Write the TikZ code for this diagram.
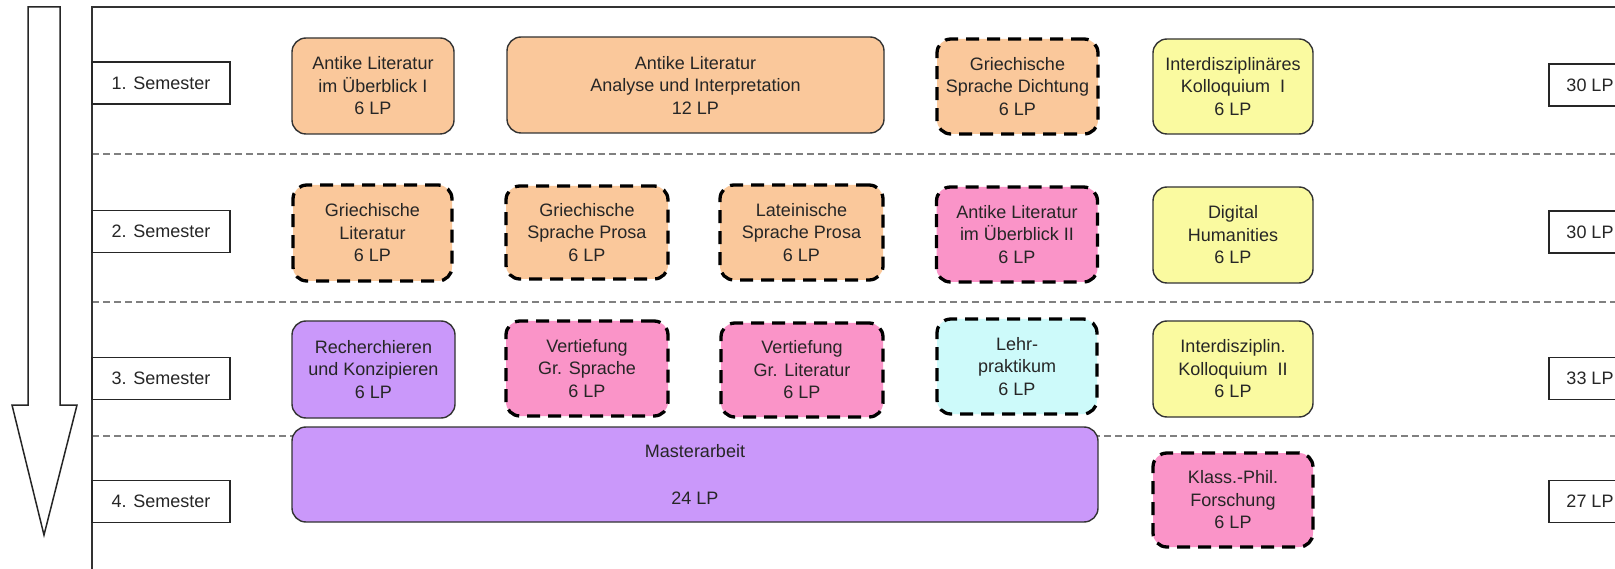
\documentclass[tikz,border=0pt]{standalone}
\usepackage{fontspec}
\setmainfont{Liberation Sans}
\definecolor{orF}{RGB}{250,200,155}
\definecolor{yeF}{RGB}{250,250,160}
\definecolor{piF}{RGB}{250,148,200}
\definecolor{puF}{RGB}{202,152,250}
\definecolor{cyF}{RGB}{205,250,250}
\begin{document}
\begin{tikzpicture}[x=1pt,y=-1pt,
  txt/.style={font=\fontsize{18}{22.5}\selectfont, text=black!85},
  modbox/.style={txt, rounded corners=14pt, align=center, inner sep=0pt, line width=1.4pt, draw=black!80},
  optbox/.style={modbox, draw=black, line width=3.3pt, dash pattern=on 13pt off 8pt},
  sembox/.style={txt, draw=black!85, line width=1.4pt, inner sep=0pt, minimum width=138pt, minimum height=42pt},
  lpbox/.style={txt, draw=black!85, line width=1.4pt, inner sep=0pt, minimum width=82pt, minimum height=42pt},
  sep/.style={draw=black!50, line width=1.2pt, dash pattern=on 7pt off 4pt},
  frame/.style={draw=black!80, line width=2pt},
  bigarrow/.style={draw=black!85, line width=1.5pt, fill=white}]
\clip (0,0) rectangle (1615,569);
\fill[white] (0,0) rectangle (1615,569);

% timeline arrow
\draw[bigarrow] (28,7) -- (60,7) -- (60,405) -- (77,405) -- (44,535) -- (12,405) -- (28,405) -- cycle;

% separators
\coordinate (s1l) at (92,154);  \coordinate (s1r) at (1615,154);
\coordinate (s2l) at (92,302);  \coordinate (s2r) at (1615,302);
\coordinate (s3l) at (92,436);  \coordinate (s3r) at (1615,436);
\draw[sep] (s1l) -- (s1r);
\draw[sep] (s2l) -- (s2r);
\draw[sep] (s3l) -- (s3r);

% frame
\coordinate (ftr) at (1615,7);
\coordinate (ftl) at (92,7);
\coordinate (fbl) at (92,569);
\draw[frame] (ftr) -- (ftl) -- (fbl);

% semester labels
\node[sembox] (sem1) at (161,83) {1. Semester};
\node[sembox] (sem2) at (161,231.5) {2. Semester};
\node[sembox] (sem3) at (161,378.5) {3. Semester};
\node[sembox] (sem4) at (161,501.5) {4. Semester};

% LP totals
\node[lpbox] (lp1) at (1590,85) {30 LP};
\node[lpbox] (lp2) at (1590,232) {30 LP};
\node[lpbox] (lp3) at (1590,378.5) {33 LP};
\node[lpbox] (lp4) at (1590,501.5) {27 LP};

% row 1
\node[modbox, fill=orF, minimum width=162pt, minimum height=96pt] (a1) at (373,86) {Antike Literatur\\im Überblick I\\6 LP};
\node[modbox, fill=orF, minimum width=377pt, minimum height=96pt] (a2) at (695.5,85) {Antike Literatur\\Analyse und Interpretation\\12 LP};
\node[optbox, fill=orF, minimum width=161pt, minimum height=95pt] (a3) at (1017.5,86.5) {Griechische\\Sprache Dichtung\\6 LP};
\node[modbox, fill=yeF, minimum width=160pt, minimum height=95pt] (a4) at (1233,86.5) {Interdisziplinäres\\Kolloquium~ I\\6 LP};

% row 2
\node[optbox, fill=orF, minimum width=159pt, minimum height=96pt] (b1) at (372.5,233) {Griechische\\Literatur\\6 LP};
\node[optbox, fill=orF, minimum width=162pt, minimum height=93pt] (b2) at (587,232.5) {Griechische\\Sprache Prosa\\6 LP};
\node[optbox, fill=orF, minimum width=163pt, minimum height=95pt] (b3) at (801.5,232.5) {Lateinische\\Sprache Prosa\\6 LP};
\node[optbox, fill=piF, minimum width=161pt, minimum height=95pt] (b4) at (1017,234.5) {Antike Literatur\\im Überblick II\\6 LP};
\node[modbox, fill=yeF, minimum width=160pt, minimum height=96pt] (b5) at (1233,235) {Digital\\Humanities\\6 LP};

% row 3
\node[modbox, fill=puF, minimum width=163pt, minimum height=97pt] (c1) at (373.5,369.5) {Recherchieren\\und Konzipieren\\6 LP};
\node[optbox, fill=piF, minimum width=162pt, minimum height=95pt] (c2) at (587,368.5) {Vertiefung\\Gr. Sprache\\6 LP};
\node[optbox, fill=piF, minimum width=162pt, minimum height=94pt] (c3) at (802,370) {Vertiefung\\Gr. Literatur\\6 LP};
\node[optbox, fill=cyF, minimum width=160pt, minimum height=95pt] (c4) at (1017,366.5) {Lehr-\\praktikum\\6 LP};
\node[modbox, fill=yeF, minimum width=160pt, minimum height=96pt] (c5) at (1233,369) {Interdisziplin.\\Kolloquium~ II\\6 LP};

% row 4
\node[modbox, fill=puF, minimum width=806pt, minimum height=95pt] (d1) at (695,474.5) {Masterarbeit\\[24pt]24 LP};
\node[optbox, fill=piF, minimum width=160pt, minimum height=94pt] (d2) at (1233,500) {Klass.-Phil.\\Forschung\\6 LP};
\end{tikzpicture}
\end{document}
